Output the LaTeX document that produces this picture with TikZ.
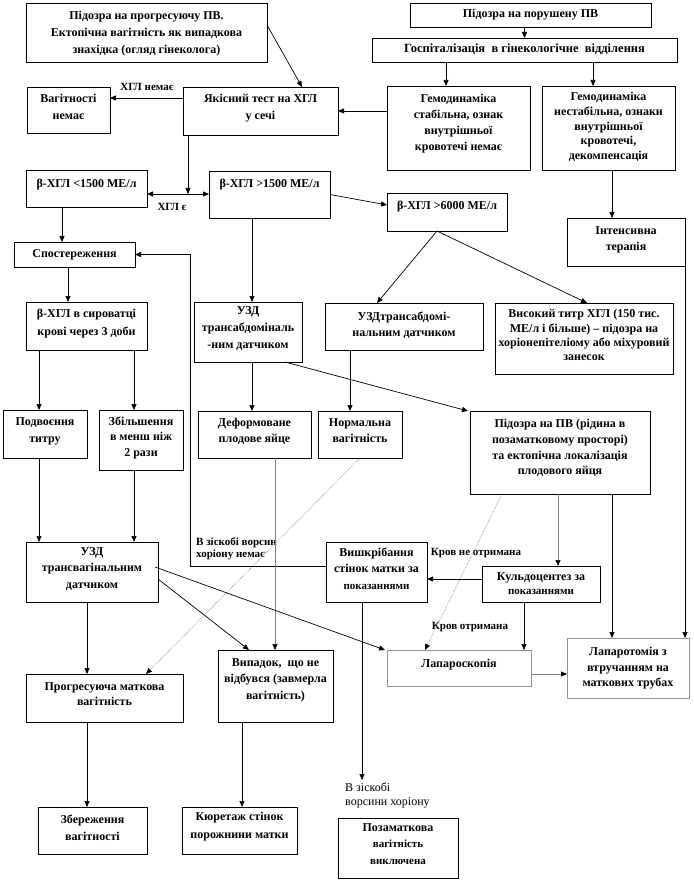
\documentclass[tikz,border=0pt]{standalone}
\usepackage{fontspec}
\setmainfont{Liberation Serif}
\usetikzlibrary{arrows.meta,calc}
\newcommand\smtxt{\fontsize{11}{12}\selectfont}
\newcommand\mkbox[9]{%
  \pgfmathsetmacro\bw{#6-#4}%
  \pgfmathsetmacro\bh{#7-#5}%
  \pgfmathsetmacro\bcx{(#4+#6)/2}%
  \pgfmathsetmacro\bcy{(#5+#7)/2}%
  \node[box,#1,minimum width=\bw pt,minimum height=\bh pt] (#3) at (\bcx,\bcy) {};
  \node[txt,#2,anchor=north] (#3t) at ([yshift=-#8pt]#3.north) {#9};%
}
\newcommand\mybox[8][]{\mkbox{}{#1}{#2}{#3}{#4}{#5}{#6}{#7}{#8}}
\newcommand\myboxg[8][]{\mkbox{gbox}{#1}{#2}{#3}{#4}{#5}{#6}{#7}{#8}}
\begin{document}
\begin{tikzpicture}[x=1pt,y=-1pt,
  box/.style={draw=black,line width=0.8pt,inner sep=0pt,outer sep=0pt},
  gbox/.style={draw=gray!85},
  txt/.style={font=\bfseries\fontsize{12}{16}\selectfont,align=center,inner sep=0pt,outer sep=0pt},
  ls/.style={font=\bfseries\fontsize{12}{#1}\selectfont},
  lbl/.style={font=\bfseries\fontsize{11}{12.5}\selectfont,inner sep=0pt,align=left},
  arr/.style={-{Triangle[length=6pt,width=5pt]},line width=0.7pt},
  garr/.style={-{Triangle[length=6pt,width=5pt,color=black]},draw=gray,line width=0.6pt}]
\useasboundingbox (0,0) rectangle (693,882);
\fill[white] (0,0) rectangle (693,882);

\mybox[ls=17]{A}{26}{3}{267}{62}{8.5}{Підозра на прогресуючу ПВ.\\Ектопічна вагітність як випадкова\\знахідка (огляд гінеколога)}
\mybox{B}{410}{3}{651}{27}{6.5}{Підозра на порушену ПВ}
\mybox[font=\bfseries\fontsize{12.5}{15}\selectfont]{C}{372}{38}{677}{62}{6}{Госпіталізація\ \ в гінекологічне\ \ відділення}
\mybox[ls=17]{D}{27}{87}{110}{133}{7.5}{Вагітності\\немає}
\mybox[ls=17]{E}{183}{87}{338}{135}{7.5}{Якісний тест на ХГЛ\\у сечі}
\mybox{F}{387}{86}{530}{170}{8.5}{Гемодинаміка\\стабільна, ознак\\внутрішньої\\кровотечі немає}
\mybox[ls=14.7]{G}{542}{86}{675}{170}{6.5}{Гемодинаміка\\нестабільна, ознаки\\внутрішньої\\кровотечі,\\декомпенсація}
\mybox{H}{26}{170}{147}{207}{9.5}{β-ХГЛ <1500 МЕ/л}
\mybox{I}{209}{171}{330}{218}{8.5}{β-ХГЛ >1500 МЕ/л}
\mybox{J}{387}{193}{507}{231}{8.5}{β-ХГЛ >6000 МЕ/л}
\mybox{K}{567}{218}{685}{266}{8.5}{Інтенсивна\\терапія}
\mybox{L}{14}{242}{135}{267}{7.5}{Спостереження}
\mybox[ls=18]{P}{26}{302}{147}{350}{7.5}{β-ХГЛ в сироватці\\крові через 3 доби}
\mybox[ls=17]{M1}{194}{302}{302}{362}{4.5}{УЗД\\трансабдоміналь\\-ним датчиком}
\mybox{M2}{325}{303}{483}{350}{8.5}{УЗДтрансабдомі-\\нальним датчиком}
\mybox[ls=14.3]{N}{495}{303}{673}{374}{6.5}{Високий титр ХГЛ (150 тис.\\МЕ/л і більше) – підозра на\\хоріонепітеліому або міхуровий\\занесок}
\mybox[ls=17]{Q}{3}{410}{87}{458}{7.5}{Подвоєння\\титру}
\mybox[ls=15.5]{R}{99}{410}{183}{470}{6.5}{Збільшення\\в менш ніж\\2 рази}
\mybox{S}{198}{411}{311}{458}{7.5}{Деформоване\\плодове яйце}
\mybox{T}{318}{411}{402}{458}{7.5}{Нормальна\\вагітність}
\mybox[ls=15.7]{V}{470}{411}{650}{494}{8.5}{Підозра на ПВ (рідина в\\позаматковому просторі)\\та ектопічна локалізація\\плодового яйця}
\mybox[ls=16.5]{W}{26}{542}{158}{602}{5.5}{УЗД\\трансвагінальним\\датчиком}
\mybox[ls=16.5]{Z}{326}{542}{427}{602}{5.5}{Вишкрібання\\стінок матки за\\{\smtxt показаннями}}
\mybox[ls=14]{AA}{482}{566}{600}{602}{6.5}{Кульдоцентез за\\{\smtxt показаннями}}
\myboxg{BB}{387}{650}{531}{686}{9.5}{Лапароскопія}
\myboxg[ls=15.5]{CC}{567}{638}{689}{698}{9.5}{Лапаротомія з\\втручанням на\\маткових трубах}
\mybox[ls=15]{X}{26}{674}{183}{722}{8.5}{Прогресуюча маткова\\вагітність}
\mybox[ls=16.5]{Y}{218}{650}{333}{722}{8.5}{Випадок,\ \ що не\\відбувся (завмерла\\вагітність)}
\mybox[ls=17]{DD}{38}{807}{147}{854}{7.5}{Збереження\\вагітності}
\mybox[ls=18]{EE}{182}{807}{297}{854}{5.5}{Кюретаж стінок\\порожнини матки}
\mybox[ls=16.5]{FF}{338}{818}{458}{878}{5.5}{Позаматкова\\{\smtxt вагітність}\\{\smtxt виключена}}

% labels
\node[lbl] (lab1) at (147,87) {ХГЛ немає};
\node[lbl] (lab2) at (172,207) {ХГЛ є};
\node[lbl,anchor=north west] (lab3) at (196,537) {В зіскобі ворсин\\хоріону немає};
\node[lbl] (lab4) at (476,553) {Кров не отримана};
\node[lbl] (lab5) at (470,627) {Кров отримана};
\node[font=\fontsize{12}{14}\selectfont,anchor=north west,align=left,inner sep=0pt] (lab6) at (345,783) {В зіскобі\\ворсини хоріону};

% coordinates
\coordinate (c39) at (39,0);
\coordinate (c62) at (62,0);
\coordinate (c68) at (68,0);
\coordinate (c87) at (87,0);
\coordinate (c98) at (0,98);
\coordinate (c134) at (134,0);
\coordinate (c188) at (188,0);
\coordinate (c190) at (190,0);
\coordinate (c194) at (0,194);
\coordinate (c242) at (242,0);
\coordinate (c252) at (252,0);
\coordinate (c275) at (275,0);
\coordinate (c350) at (350,0);
\coordinate (c446) at (446,0);
\coordinate (c524) at (524,0);
\coordinate (c558) at (558,0);
\coordinate (c579) at (0,579);
\coordinate (c593) at (593,0);
\coordinate (c612) at (612,0);
\coordinate (c685) at (685,0);
\coordinate (zend) at (362,780);

% connectors
\draw[arr] ([yshift=7.5pt]A.east) -- ([xshift=41.5pt]E.north);
\draw[arr] (B.south -| C.north) -- (C.north);
\draw[arr] (C.south -| c446) -- (F.north -| c446);
\draw[arr] (C.south -| c593) -- (G.north -| c593);
\draw[arr] (F.west |- E.east) -- (E.east);
\draw[arr] (E.west |- c98) -- (D.east |- c98);
\draw[arr] (E.south -| c188) -- (c188 |- c194);
\draw[{Triangle[length=6pt,width=5pt]}-{Triangle[length=6pt,width=5pt]},line width=0.7pt] (H.east |- c194) -- (I.west |- c194);
\draw[arr] (I.east) -- ([yshift=7pt]J.west);
\draw[arr] (G.south -| c612) -- (K.north -| c612);
\draw[arr] (H.south -| c62) -- (L.north -| c62);
\draw[arr] (L.south -| c68) -- (P.north -| c68);
\draw[arr] ([yshift=6pt]Z.west) -| (c190 |- L.east) -- (L.east);
\draw[arr] (I.south -| c252) -- (M1.north -| c252);
\draw[arr] ([xshift=-10pt]J.south) -- ([xshift=-27pt]M2.north);
\draw[arr] ([xshift=-10pt]J.south) -- ([xshift=3pt]N.north);
\draw[arr] (P.south -| c39) -- (Q.north -| c39);
\draw[arr] (P.south -| c134) -- (R.north -| c134);
\draw[arr] (M1.south -| c252) -- (S.north -| c252);
\draw[arr] ([xshift=-17pt]M1.south east) -- ([xshift=-2pt]V.north west);
\draw[arr] (M2.south -| c350) -- (T.north -| c350);
\draw[garr] (S.south -| c275) -- (Y.north -| c275);
\draw[garr,densely dotted] (T.south) -- ([xshift=41.5pt]X.north);
\draw[garr,densely dotted] ([xshift=-58pt]V.south) -- ([xshift=-34pt]BB.north);
\draw[garr] (V.south -| c558) -- (AA.north -| c558);
\draw[arr] (V.south -| c612) -- (CC.north -| c612);
\draw[arr] (K.south -| c685) -- (CC.north -| c685);
\draw[arr] (Q.south -| c39) -- (W.north -| c39);
\draw[arr] (R.south -| c134) -- (W.north -| c134);
\draw[arr] (AA.west |- c579) -- (Z.east |- c579);
\draw[arr] (AA.south -| c524) -- (BB.north -| c524);
\draw[arr] ([xshift=-3pt,yshift=5pt]W.east) -- ([xshift=-2pt]BB.north west);
\draw[arr] ([yshift=-7pt]W.east) -- ([xshift=-26.5pt]Y.north);
\draw[arr] (W.south -| c87) -- (X.north -| c87);
\draw[garr] ([yshift=-6pt]BB.east) -- ([yshift=-6pt]CC.west);
\draw[arr] (Z.south -| zend) -- (zend);
\draw[arr] (X.south -| c87) -- (DD.north -| c87);
\draw[arr] (Y.south -| c242) -- (EE.north -| c242);
\end{tikzpicture}
\end{document}
